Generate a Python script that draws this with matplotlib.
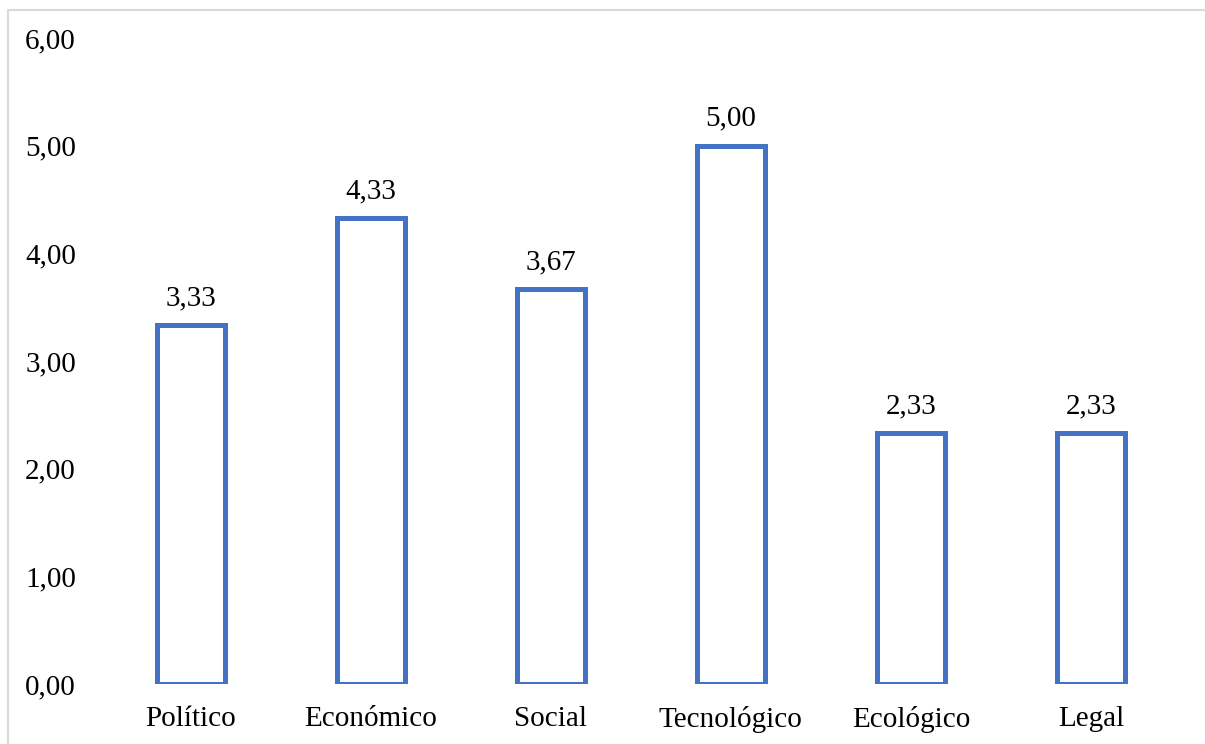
import matplotlib.pyplot as plt
from matplotlib.patches import Rectangle

# datos del gráfico
categorias = ['Político', 'Económico', 'Social', 'Tecnológico', 'Ecológico', 'Legal']
valores = [3.33, 4.33, 3.67, 5.00, 2.33, 2.33]
ticks_y = [0, 1, 2, 3, 4, 5, 6]

plt.rcParams['font.family'] = ['Liberation Serif', 'DejaVu Serif']

fig = plt.figure(figsize=(12.05, 7.44), dpi=100)
ax = fig.add_axes([0.0838, 0.0806, 0.8962, 0.8683])

x = range(len(categorias))
ax.bar(x, valores, width=0.378, facecolor='white', edgecolor='#4472C4', linewidth=3.6)

for xi, v in zip(x, valores):
    ax.annotate(f'{v:.2f}'.replace('.', ','), (xi, v), xytext=(0, 10),
                textcoords='offset points', ha='center', va='bottom', fontsize=21)

ax.set_xlim(-0.5, len(categorias) - 0.5)
ax.set_ylim(0, 6)
ax.set_xticks(list(x))
ax.set_xticklabels(categorias, fontsize=21)
ax.set_yticks(ticks_y)
ax.set_yticklabels([f'{t:.2f}'.replace('.', ',') for t in ticks_y], fontsize=21)
ax.tick_params(length=0)
ax.tick_params(axis='y', pad=18)
ax.tick_params(axis='x', pad=16)
for s in ax.spines.values():
    s.set_visible(False)

# marco exterior gris claro
fig.patches.append(Rectangle((8 / 1205, -0.1), 1.2, (744 - 10) / 744 + 0.1,
                             transform=fig.transFigure, fill=False,
                             edgecolor='#d9d9d9', linewidth=1.5))

fig.savefig('out.png', dpi=100)
